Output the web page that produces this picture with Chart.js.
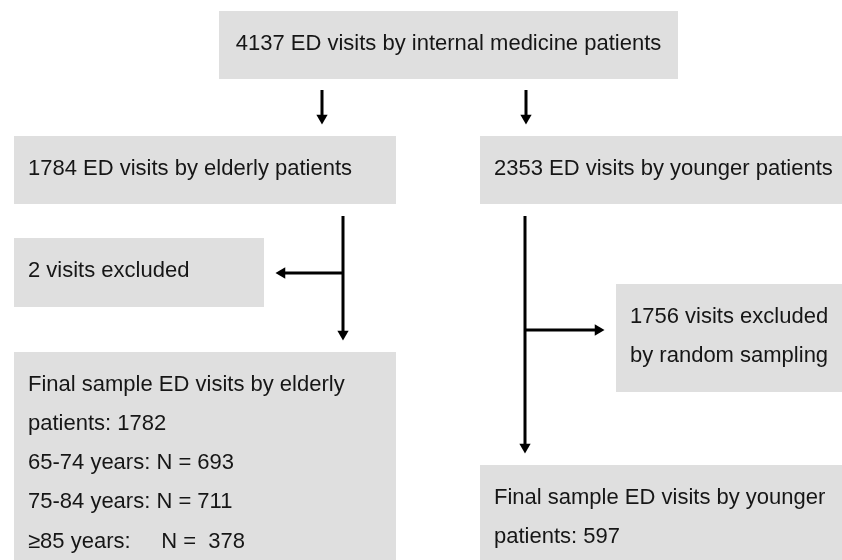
<!DOCTYPE html>
<html>
<head>
<meta charset="utf-8">
<title>ED visits flow</title>
<script src="https://cdn.jsdelivr.net/npm/chart.js@4.4.1/dist/chart.umd.min.js"></script>
<style>
  html, body { margin: 0; padding: 0; background: #fff; }
  #wrap { width: 842px; height: 560px; }
</style>
</head>
<body>
<div id="wrap"><canvas id="flow" width="842" height="560"></canvas></div>
<script>
/* flow diagram: boxes + connectors drawn on hidden linear scales */

// counts
const totalVisits = 4137;
const groupVisits = [1784, 2353];      // elderly, younger
const excludedVisits = [2, 1756];      // elderly, younger
const finalVisits = [1782, 597];       // elderly, younger
const ageBands = ['65-74 years:', '75-84 years:', '≥85 years:    '];
const ageCounts = [693, 711, 378];

// box text, one entry per box
const boxLines = [
  [`${totalVisits} ED visits by internal medicine patients`],
  [`${groupVisits[0]} ED visits by elderly patients`],
  [`${groupVisits[1]} ED visits by younger patients`],
  [`${excludedVisits[0]} visits excluded`],
  [`${excludedVisits[1]} visits excluded`, 'by random sampling'],
  [`Final sample ED visits by elderly`, `patients: ${finalVisits[0]}`,
    ...ageBands.map((b, i) => `${b} N = ${i === 2 ? ' ' : ''}${ageCounts[i]}`)],
  [`Final sample ED visits by younger`, `patients: ${finalVisits[1]}`]
];

// layout (diagram units): [left, right, top, bottom]
const boxRect = [
  [219, 678, 11, 79],
  [14, 396, 136, 204],
  [480, 842, 136, 204],
  [14, 264, 238, 307],
  [616, 842, 284, 392],
  [14, 396, 352, 560],
  [480, 842, 465, 560]
];
const boxAlign = ['center', 'left', 'left', 'left', 'left', 'left', 'left'];

// connectors: polyline points, arrow marker on the last one
const connectors = [
  { pts: [[322, 90], [322, 118]], rot: 180 },
  { pts: [[526, 90], [526, 118]], rot: 180 },
  { pts: [[343, 216], [343, 334]], rot: 180 },
  { pts: [[343, 273], [282, 273]], rot: 270 },
  { pts: [[525, 216], [525, 447]], rot: 180 },
  { pts: [[525, 330], [598, 330]], rot: 90 }
];

const FONT = '22px "Liberation Sans", Arial, Helvetica, sans-serif';

const boxPlugin = {
  id: 'boxes',
  beforeDatasetsDraw(chart) {
    const { ctx, scales: { x, y } } = chart;
    ctx.save();
    ctx.fillStyle = '#dfdfdf';
    boxRect.forEach(([l, r, t, b]) => {
      const px = x.getPixelForValue(l), py = y.getPixelForValue(t);
      ctx.fillRect(px, py, x.getPixelForValue(r) - px, y.getPixelForValue(b) - py);
    });
    ctx.restore();
  },
  afterDatasetsDraw(chart) {
    const { ctx, scales: { x, y } } = chart;
    ctx.save();
    ctx.font = FONT;
    ctx.fillStyle = '#161616';
    ctx.textBaseline = 'alphabetic';
    boxLines.forEach((lines, i) => {
      const [l, r, t] = boxRect[i];
      const center = boxAlign[i] === 'center';
      ctx.textAlign = center ? 'center' : 'left';
      const tx = x.getPixelForValue(center ? (l + r) / 2 : l + 14);
      lines.forEach((s, k) => {
        ctx.fillText(s, tx, y.getPixelForValue(t + 38.5 + k * 39.25));
      });
    });
    ctx.restore();
  }
};

const datasets = connectors.map(c => ({
  data: c.pts.map(([px, py]) => ({ x: px, y: py })),
  showLine: true,
  borderColor: '#000',
  borderWidth: 3,
  borderCapStyle: 'butt',
  pointStyle: 'triangle',
  pointRotation: c.rot,
  pointRadius: (ctx) => (ctx.dataIndex === c.pts.length - 1 ? 6.5 : 0),
  pointBackgroundColor: '#000',
  pointBorderWidth: 0,
  pointHoverRadius: 0
}));

new Chart(document.getElementById('flow'), {
  type: 'scatter',
  data: { datasets },
  options: {
    responsive: false,
    animation: false,
    devicePixelRatio: 1,
    layout: { padding: 0, autoPadding: false },
    events: [],
    scales: {
      x: { type: 'linear', min: 0, max: 842, display: false },
      y: { type: 'linear', min: 0, max: 560, reverse: true, display: false }
    },
    plugins: { legend: { display: false }, tooltip: { enabled: false } }
  },
  plugins: [boxPlugin]
});
</script>
</body>
</html>
